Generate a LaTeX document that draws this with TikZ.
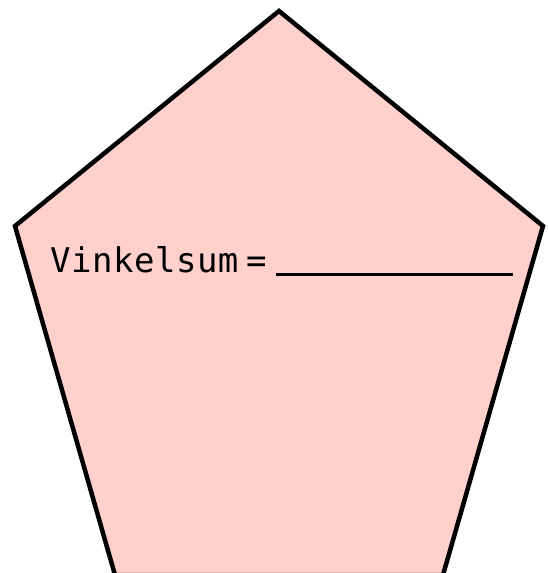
\documentclass[tikz,border=0pt]{standalone}
\usepackage{fontspec}
\newfontfamily\monofont{DejaVu Sans Mono}
\definecolor{pentafill}{RGB}{255,208,204}
\begin{document}
\begin{tikzpicture}[x=1pt,y=-1pt,
  pentagon/.style={draw=black,line width=4.5pt,fill=pentafill,line join=miter},
  label/.style={inner sep=0pt,anchor=base west,font=\monofont\fontsize{34}{40}\selectfont},
  blank/.style={line width=3pt}]
\useasboundingbox (0,0) rectangle (548,573);
\clip (0,0) rectangle (548,573);
\coordinate (t) at (279,11);
\coordinate (r) at (543,226);
\coordinate (br) at (443,575);
\coordinate (bl) at (115,575);
\coordinate (l) at (15,226);
\draw[pentagon] (t) -- (r) -- (br) -- (bl) -- (l) -- cycle;
\node[label] (word) at (50,272) {\addfontfeature{LetterSpace=1.5}Vinkelsum};
\node[label] (eq) at (246,272) {=};
\coordinate (u1) at (276,274.5);
\coordinate (u2) at (513,274.5);
\draw[blank] (u1) -- (u2);
\end{tikzpicture}
\end{document}
